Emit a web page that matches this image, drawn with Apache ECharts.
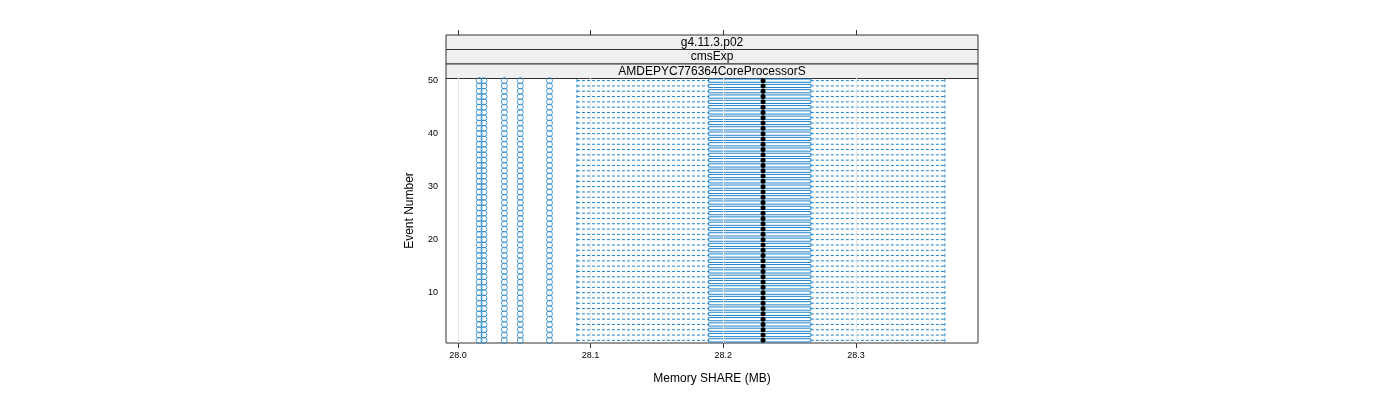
<!DOCTYPE html><html><head><meta charset="utf-8"><script src="https://cdn.jsdelivr.net/npm/echarts@6/dist/echarts.min.js"></script></head><body style="margin:0"><div id="c" style="width:1400px;height:400px"></div><script>
var events=[];for(var i=1;i<=50;i++)events.push(i);
var whiskerLow=28.0897, q1=28.189, median=28.230, q3=28.266, whiskerHigh=28.367;
var outliers=[28.016,28.0196,28.035,28.047,28.069];
var xTicks=[28.0,28.1,28.2,28.3];
var C='#1f82c8';
var boxData=events.map(function(e){return [e,whiskerLow,q1,median,q3,whiskerHigh];});
var outData=[];events.forEach(function(e){outliers.forEach(function(o){outData.push([o,e]);});});
var ch=echarts.init(document.getElementById('c'));
function strip(y,t){return {type:'group',children:[{type:'rect',shape:{x:446,y:y,width:532,height:14.5},style:{fill:'#f0f0f0',stroke:'#333',lineWidth:1}},{type:'text',x:712,y:y+7.5,style:{text:t,fill:'#000',font:'12px Liberation Sans, Arial',align:'center',verticalAlign:'middle'}}]};}
ch.setOption({animation:false,
grid:{left:446,right:422,top:78,bottom:57,show:true,borderColor:'#333',borderWidth:1},
xAxis:[{type:'value',min:27.991,max:28.392,interval:0.1,position:'bottom',name:'Memory SHARE (MB)',nameLocation:'middle',nameGap:30,nameTextStyle:{fontSize:12,color:'#000',fontFamily:'Liberation Sans'},
axisLine:{show:false},axisTick:{show:true,length:5,lineStyle:{color:'#333'},customValues:xTicks},axisLabel:{fontSize:9,color:'#000',customValues:xTicks,formatter:function(v){return v.toFixed(1);}},splitLine:{show:false}},
{type:'value',min:27.991,max:28.392,position:'top',offset:43,axisLine:{show:false},axisTick:{show:true,length:5,lineStyle:{color:'#333'},customValues:xTicks},axisLabel:{show:false},splitLine:{show:false}}],
yAxis:{type:'value',min:0.5,max:50.5,name:'Event Number',nameLocation:'middle',nameGap:30,nameTextStyle:{fontSize:12,color:'#000',fontFamily:'Liberation Sans'},axisLine:{show:false},axisTick:{show:false},axisLabel:{fontSize:9,color:'#000',customValues:[10,20,30,40,50]},splitLine:{show:false}},
graphic:[strip(35,'g4.11.3.p02'),strip(49.5,'cmsExp'),strip(64,'AMDEPYC776364CoreProcessorS')],
series:[
{type:'line',data:xTicks.map(function(t){return [t,0.5];}),symbol:'none',lineStyle:{width:0},markLine:{silent:true,symbol:'none',label:{show:false},lineStyle:{color:'#e6e6e6',type:'solid',width:1},data:xTicks.map(function(t){return {xAxis:t};})}},
{type:'custom',data:boxData,renderItem:function(p,api){
var e=api.value(0),h=1.6;
var a=api.coord([api.value(1),e]),b=api.coord([api.value(2),e]),m=api.coord([api.value(3),e]),c=api.coord([api.value(4),e]),d=api.coord([api.value(5),e]);
var ds={stroke:C,lineWidth:1,lineDash:[3,2]};
return {type:'group',children:[
{type:'line',shape:{x1:a[0],y1:a[1],x2:b[0],y2:b[1]},style:ds},
{type:'line',shape:{x1:c[0],y1:c[1],x2:d[0],y2:d[1]},style:ds},
{type:'line',shape:{x1:a[0],y1:a[1]-h,x2:a[0],y2:a[1]+h},style:ds},
{type:'line',shape:{x1:d[0],y1:d[1]-h,x2:d[0],y2:d[1]+h},style:ds},
{type:'rect',shape:{x:b[0],y:b[1]-h,width:c[0]-b[0],height:2*h},style:{fill:'#fff',stroke:C,lineWidth:1}},
{type:'circle',shape:{cx:m[0],cy:m[1],r:2.5},style:{fill:'#000'}}]};}},
{type:'scatter',data:outData,symbol:'circle',symbolSize:6,itemStyle:{color:'rgba(0,0,0,0)',borderColor:C,borderWidth:1}}
]});
</script></body></html>
